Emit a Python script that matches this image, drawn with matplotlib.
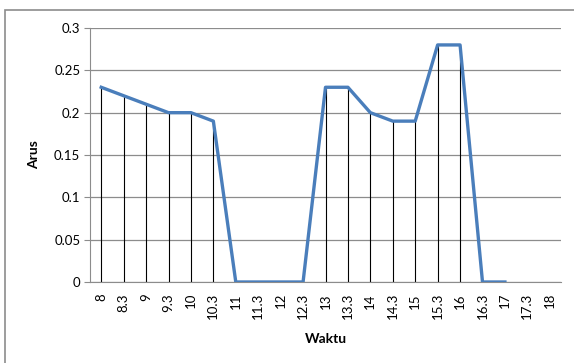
import numpy as np
import matplotlib.pyplot as plt
from matplotlib.patches import Rectangle

plt.rcParams['font.family'] = ['Lato', 'DejaVu Sans']

waktu = ['8', '8.3', '9', '9.3', '10', '10.3', '11', '11.3', '12', '12.3', '13',
         '13.3', '14', '14.3', '15', '15.3', '16', '16.3', '17', '17.3', '18']
arus = [0.23, 0.22, 0.21, 0.20, 0.20, 0.19, 0, 0, 0, 0, 0.23,
        0.23, 0.20, 0.19, 0.19, 0.28, 0.28, 0, 0, np.nan, np.nan]
yticks = [0, 0.05, 0.1, 0.15, 0.2, 0.25, 0.3]
ytick_labels = ['0', '0.05', '0.1', '0.15', '0.2', '0.25', '0.3']

fig = plt.figure(figsize=(5.74, 3.63), dpi=100)
# chart area border (clipped at right/bottom like the screenshot)
fig.patches.append(Rectangle((5/574, -0.05), 1.0, 1 - 10/363 + 0.05,
                             transform=fig.transFigure, fill=False,
                             edgecolor='#8c8c8c', linewidth=1.2))

ax = fig.add_axes([90/574, 1 - 282/363, (561-90)/574, (282-28)/363])
x = np.arange(len(waktu))
y = np.array(arus)

ax.set_axisbelow(True)
ax.yaxis.grid(True, color='#8c8c8c', linewidth=0.9)
mask = ~np.isnan(y)
ax.vlines(x[mask], 0, y[mask], color='black', linewidth=0.8, zorder=2)
ax.plot(x, y, color='#4a7ebb', linewidth=2.4, zorder=3)

ax.set_xlim(-0.5, len(waktu) - 0.5)
ax.set_ylim(0, 0.3)
ax.set_xticks(x)
ax.set_xticklabels(waktu, rotation=90, fontsize=9.5)
ax.set_yticks(yticks)
ax.set_yticklabels(ytick_labels, fontsize=9.5)
ax.tick_params(axis='x', length=0, pad=8)
ax.tick_params(axis='y', length=4, color='#8c8c8c', pad=3)

for s in ['top', 'right']:
    ax.spines[s].set_visible(False)
ax.spines['left'].set_color('#8c8c8c')
ax.spines['bottom'].set_color('#8c8c8c')

ax.set_xlabel('Waktu', fontsize=10, fontweight='bold', labelpad=10)
ax.set_ylabel('Arus', fontsize=10, fontweight='bold', labelpad=10)

fig.savefig('out.png', dpi=100)
